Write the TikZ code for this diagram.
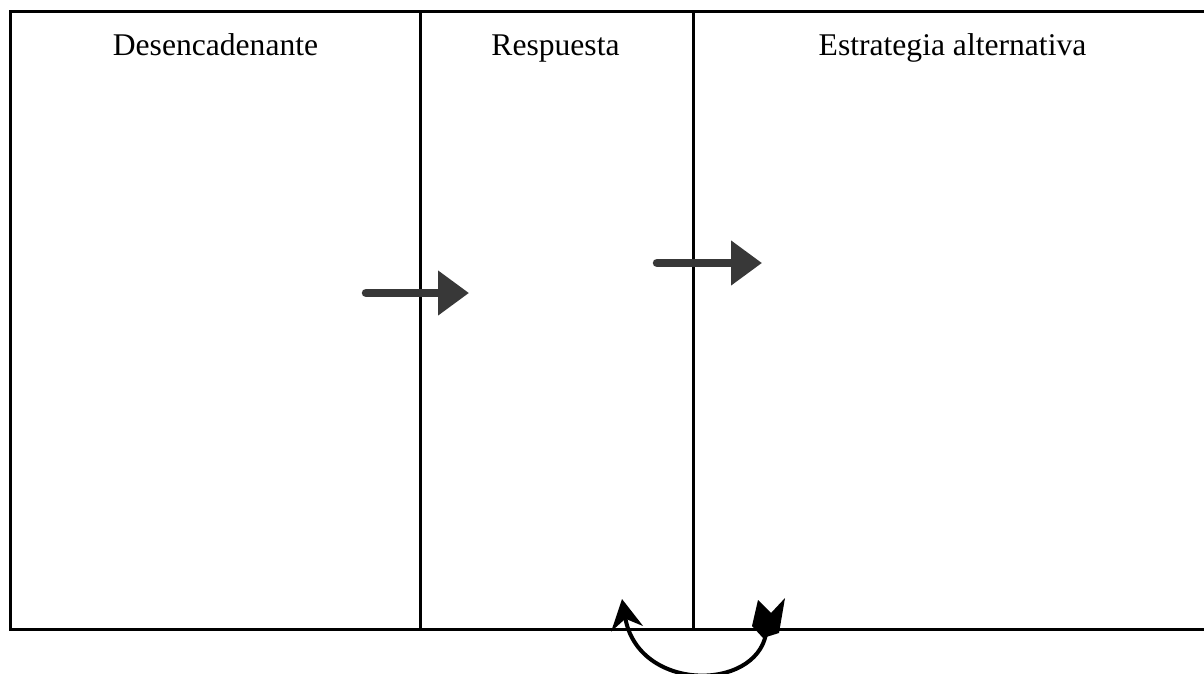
\documentclass[tikz,border=0pt]{standalone}
\usepackage{fontspec}
\setmainfont{Liberation Serif}
\usetikzlibrary{arrows.meta}
\definecolor{arrowgray}{HTML}{383838}
\begin{document}
\begin{tikzpicture}[x=1pt,y=-1pt,
  rule/.style={line width=3pt},
  heading/.style={anchor=base, font=\fontsize{31.6}{38}\selectfont, inner sep=0pt},
  flow/.style={line width=8.5pt, line cap=round, arrowgray,
    -{Triangle[length=31pt,width=43pt]}},
  loop arrow/.style={line width=4pt,
    -{Stealth[length=30pt,width=32pt,inset=10pt]}}]
\useasboundingbox (0,0) rectangle (1204,674);

% table frame with three columns
\draw[rule] (10.5,11.3) rectangle (1213,629.5);
\draw[rule] (420,11.3) -- (420,629.5);
\draw[rule] (693,11.3) -- (693,629.5);

% column headings
\node[heading] (trigger)  at (215.5,56) {Desencadenante};
\node[heading] (response) at (555.5,56) {Respuesta};
\node[heading] (strategy) at (952.5,56) {Estrategia alternativa};

% block arrows between the columns
\coordinate (a1s) at (366,293);
\coordinate (a1e) at (469,293);
\coordinate (a2s) at (657,263);
\coordinate (a2e) at (762,263);
\draw[flow] (a1s) -- (a1e);
\draw[flow] (a2s) -- (a2e);

% curved return arrow below the table
\coordinate (tail) at (766,634);
\coordinate (tip)  at (622,599);
\draw[loop arrow] (tail) .. controls (755,692) and (638,692) .. (tip);
\fill (763,638) -- (752,626) -- (758,600) -- (771,613) -- (785,598)
      -- (779,633) -- cycle;
\end{tikzpicture}
\end{document}
